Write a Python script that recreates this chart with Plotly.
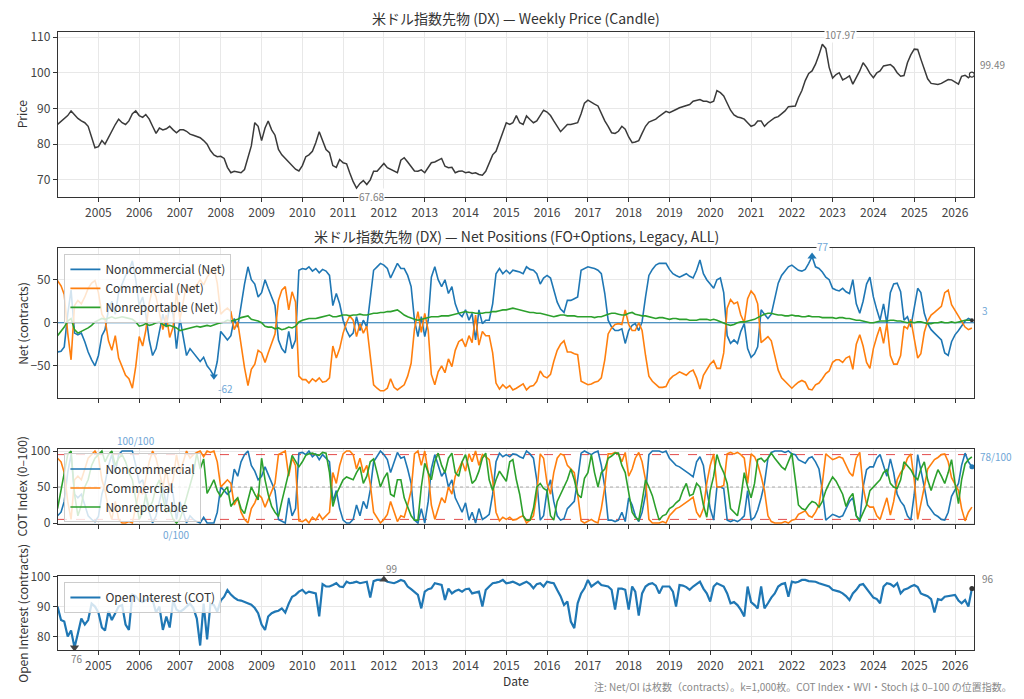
import numpy as np
import pandas as pd
import plotly.graph_objects as go

# ---------------- data (monthly readings, 2004-01 .. 2026-06) ----------------
dates = pd.date_range("2004-01-01", periods=270, freq="MS")

price = [
 85.5, 86.4, 87, 88, 89.3, 88.2, 87.2, 86.5, 86, 85, 82, 79,
 79.3, 81, 80, 82, 83.5, 85.5, 87, 86, 85.5, 86.5, 88.5, 89.3,
 88, 87.5, 88.3, 87, 85, 83, 84.5, 84, 84.3, 85, 84, 83.2,
 84, 84, 83.6, 82.8, 82.5, 82.2, 81.8, 81, 80, 78.2, 77, 76.5,
 76.6, 76, 73.5, 72, 72.4, 72.2, 72, 72.9, 76, 79.5, 86, 85,
 81, 84.5, 86.5, 84, 82.5, 78.5, 77, 76, 75, 74, 73, 72.5,
 74, 76.5, 77, 78, 80.4, 83.5, 81, 78.5, 77.6, 74, 73.5, 75.7,
 74.8, 74.5, 72, 69.5, 67.68, 69, 69.8, 68.7, 70, 72.4, 72.4, 73.5,
 74.6, 73.4, 73, 72.5, 72, 75.5, 76.2, 75, 73.8, 72.5, 72.4, 72.8,
 72, 73.5, 74.8, 75, 75.5, 76, 73.8, 73.4, 73.5, 72, 72.4, 72.5,
 72, 72.2, 71.8, 72, 71.5, 71.3, 72.4, 74.5, 77, 78, 80.5, 83,
 86, 85.5, 86, 88, 86, 85.5, 87.9, 86.9, 86, 86.5, 88, 89.5,
 89, 88, 86.5, 85, 83.5, 84.5, 85.5, 85.5, 85.8, 86, 88.5, 91.5,
 92.3, 91.6, 91.2, 90.7, 88.5, 86.5, 85, 83.2, 83, 83.6, 85, 84.2,
 82, 80.4, 80.6, 81, 83, 85, 86.2, 86.6, 87, 87.8, 88.6, 89.2,
 88.8, 89.2, 89.7, 90.2, 90.5, 90.7, 91.1, 92, 92.3, 92.5, 92, 92,
 91.6, 92, 95, 94.4, 93.5, 91.4, 89.5, 88.2, 87.6, 87.4, 87, 86,
 85, 85.4, 86.5, 86.5, 85, 86, 86.8, 87.4, 87.7, 88.5, 89.3, 90.5,
 90.7, 90.7, 93, 95, 97.8, 99.8, 100.5, 102.4, 105, 107.97, 106.8, 101.5,
 98.5, 99.5, 100, 98, 98.5, 99.1, 96.8, 98.5, 100.5, 102.8, 101.5, 99.8,
 98.6, 100, 100.5, 101.9, 102.2, 102.3, 101.5, 100, 99, 99.2, 102.8, 105,
 106.6, 106.5, 103.8, 101, 98.3, 97, 96.8, 96.7, 97, 97.6, 98.1, 98,
 97.5, 96.8, 99, 99.3, 98.6, 99.49]

net_noncomm = [
 -34, -33, -28, 10, 38, -12, -14, -12, -22, -34, -43, -50,
 -38, -15, -8, 15, 25, 10, 35, 45, 55, 60, 72, 50,
 20, 30, 10, -20, -38, -30, -10, 10, -5, 20, 10, -30,
 5, -20, -38, -30, -35, -40, -45, -40, -50, -55, -62, -45,
 -10, -15, -20, -15, 5, -5, 20, 45, 65, 50, 45, 30,
 35, 50, 40, 30, 20, -20, -30, -35, -10, -30, -20, 61,
 63, 62, 65, 60, 63, 58, 62, 60, 55, 20, 34, 22,
 3, -9, -16, -12, 7, -9, 3, -5, 26, 61, 65, 69,
 67, 63, 52, 61, 69, 63, 63, 55, 42, 3, -16, 7,
 -16, 3, 53, 65, 50, 42, 50, 34, 42, 22, 11, 7,
 15, 3, 11, -20, 15, -1, 3, 3, 22, 57, 63, 57,
 61, 57, 61, 60, 59, 57, 65, 62, 61, 57, 45, 52,
 55, 52, 38, 24, 16, 12, 26, 26, 28, 30, 61, 63,
 65, 64, 63, 61, 57, 34, 3, -5, -9, -9, -7, -24,
 -9, -3, -1, -9, 1, 30, 55, 62, 67, 69, 69, 69,
 62, 57, 55, 53, 55, 57, 54, 52, 61, 73, 57, 50,
 45, 40, 50, 52, 35, -15, -24, -20, -24, -10, -1, -30,
 -40, -36, -28, 15, 10, 5, 10, 30, 46, 55, 60, 65,
 67, 64, 61, 60, 62, 69, 77, 65, 63, 59, 53, 50,
 40, 38, 37, 40, 36, 34, 50, 22, 11, 25, 45, 53,
 30, 15, 3, 22, -1, 35, 45, 46, 36, 3, 7, -5,
 20, 40, 35, 11, -1, -8, -12, -16, -20, -35, -38, -22,
 -14, -9, -3, 2, 5, 3]

net_comm = [
 49, 43, 33, -12, -43, 20, 26, 22, 30, 40, 46, 49,
 35, 10, 4, -21, -32, -15, -41, -52, -61, -65, -76, -51,
 -16, -27, -9, 23, 40, 30, 9, -8, 9, -17, -5, 36,
 4, 28, 45, 36, 40, 44, 50, 44, 53, 59, 64, 46,
 10, 14, 17, 13, -8, 1, -26, -52, -73, -54, -48, -32,
 -35, -46, -35, -25, -13, 26, 38, 42, 15, 36, 24, -62,
 -66, -66, -70, -65, -68, -64, -69, -68, -64, -27, -41, -30,
 -12, 0, 8, 3, -16, -1, -12, -4, -36, -72, -76, -79,
 -79, -76, -65, -75, -78, -75, -72, -62, -47, -7, 13, -11,
 11, -9, -60, -72, -57, -50, -58, -42, -51, -32, -22, -19,
 -28, -15, -23, 9, -26, -10, -15, -15, -35, -70, -77, -72,
 -76, -73, -78, -76, -74, -71, -78, -74, -73, -68, -56, -62,
 -64, -60, -45, -32, -25, -21, -34, -34, -36, -37, -68, -70,
 -72, -71, -69, -68, -64, -43, -13, -6, -2, -1, -2, 15,
 -2, -9, -9, 0, -9, -38, -62, -68, -72, -75, -75, -74,
 -66, -62, -60, -57, -59, -61, -57, -55, -64, -77, -61, -54,
 -48, -44, -53, -53, -35, 17, 27, 22, 24, 9, 0, 28,
 37, 32, 22, -23, -20, -16, -21, -40, -55, -64, -68, -73,
 -76, -72, -69, -67, -69, -77, -78, -72, -70, -65, -59, -56,
 -46, -43, -43, -46, -41, -39, -54, -25, -14, -27, -46, -53,
 -30, -16, -5, -24, -1, -38, -48, -48, -38, -4, -7, 4,
 -20, -41, -36, -11, 2, 9, 12, 16, 19, 35, 38, 21,
 14, 8, 1, -5, -8, -6]

net_nonrep = [
 -15, -10, -5, 2, 5, -8, -12, -10, -8, -6, -3, 1,
 3, 5, 4, 6, 7, 5, 6, 7, 6, 5, 4, 1,
 -4, -3, -1, -3, -2, 0, 1, -2, -4, -3, -5, -6,
 -9, -8, -7, -6, -5, -4, -5, -4, -3, -4, -2, -1,
 0, 1, 3, 2, 3, 4, 6, 7, 8, 4, 3, 2,
 0, -4, -5, -5, -7, -6, -8, -7, -5, -6, -4, 1,
 3, 4, 5, 5, 5, 6, 7, 8, 9, 7, 7, 8,
 9, 9, 8, 9, 9, 10, 9, 9, 10, 11, 11, 12,
 12, 13, 13, 14, 15, 12, 9, 7, 5, 4, 3, 4,
 5, 6, 7, 7, 7, 8, 8, 8, 9, 10, 11, 12,
 13, 12, 12, 11, 11, 11, 12, 12, 13, 13, 14, 15,
 15, 16, 17, 16, 15, 14, 13, 12, 12, 11, 11, 10,
 9, 8, 7, 8, 9, 9, 8, 8, 8, 7, 7, 7,
 7, 7, 6, 7, 7, 9, 10, 11, 11, 10, 9, 9,
 11, 12, 10, 9, 8, 8, 7, 6, 5, 6, 6, 5,
 4, 5, 5, 4, 4, 4, 3, 3, 3, 4, 4, 4,
 3, 4, 3, 1, 0, -2, -3, -2, 0, 1, 1, 2,
 3, 4, 6, 8, 10, 11, 11, 10, 9, 9, 8, 8,
 9, 8, 8, 7, 7, 8, 7, 7, 7, 6, 6, 6,
 6, 5, 6, 6, 5, 5, 4, 3, 3, 2, 1, 0,
 0, 1, 2, 2, 2, 3, 3, 2, 2, 1, 0, 1,
 0, 1, 1, 0, -1, -1, 0, 0, 1, 0, 0, 1,
 0, 1, 2, 3, 3, 3]

idx_noncomm = [
 10, 15, 30, 70, 95, 40, 35, 40, 25, 10, 5, 2,
 9, 40, 55, 80, 95, 70, 95, 100, 100, 100, 100, 80,
 55, 60, 40, 15, 0, 10, 30, 50, 25, 55, 40, 5,
 30, 15, 0, 10, 5, 2, 0, 8, 0, 0, 0, 15,
 50, 45, 40, 45, 75, 65, 85, 95, 100, 80, 72, 60,
 65, 78, 68, 55, 45, 5, 2, 0, 35, 10, 20, 97,
 98, 95, 100, 92, 96, 88, 95, 90, 85, 30, 45, 20,
 4, 0, 0, 5, 25, 10, 30, 20, 46, 85, 92, 100,
 95, 88, 70, 85, 98, 90, 92, 75, 55, 4, 0, 20,
 0, 30, 75, 95, 80, 65, 72, 50, 60, 35, 25, 15,
 28, 4, 15, 0, 20, 5, 8, 12, 40, 85, 97, 92,
 95, 92, 96, 95, 92, 90, 100, 96, 90, 60, 4, 10,
 45, 60, 30, 10, 4, 6, 20, 25, 30, 60, 97, 100,
 97, 95, 98, 100, 80, 50, 4, 4, 2, 4, 15, 2,
 35, 25, 10, 2, 15, 40, 95, 100, 100, 100, 98, 100,
 90, 85, 80, 78, 75, 72, 68, 64, 85, 92, 80, 45,
 20, 4, 50, 50, 48, 4, 2, 4, 2, 5, 10, 45,
 4, 8, 18, 35, 55, 90, 98, 100, 100, 100, 98, 100,
 96, 95, 88, 85, 83, 90, 92, 85, 75, 45, 4, 8,
 12, 10, 8, 10, 20, 30, 35, 10, 2, 50, 74, 78,
 78, 90, 95, 80, 65, 89, 70, 40, 30, 24, 10, 4,
 40, 95, 75, 50, 25, 18, 12, 9, 5, 4, 15, 37,
 45, 55, 80, 97, 85, 78]

idx_comm = [
 90, 85, 70, 30, 5, 60, 65, 60, 75, 90, 95, 100,
 92, 60, 45, 20, 5, 30, 5, 0, 0, 2, 0, 20,
 45, 40, 60, 85, 100, 90, 70, 50, 75, 45, 60, 95,
 70, 85, 100, 90, 95, 98, 100, 92, 100, 98, 100, 85,
 50, 55, 60, 55, 25, 35, 15, 5, 0, 20, 28, 40,
 35, 22, 32, 45, 55, 95, 98, 100, 65, 90, 80, 3,
 2, 5, 0, 8, 4, 12, 5, 10, 15, 70, 55, 80,
 96, 100, 100, 95, 75, 90, 70, 80, 54, 15, 8, 0,
 5, 12, 30, 15, 2, 10, 8, 25, 45, 96, 100, 80,
 100, 70, 25, 5, 20, 35, 28, 50, 40, 65, 75, 85,
 72, 96, 85, 100, 80, 95, 92, 88, 60, 15, 3, 8,
 5, 8, 4, 5, 8, 10, 0, 4, 10, 40, 96, 90,
 55, 40, 70, 90, 96, 94, 80, 75, 70, 40, 3, 0,
 3, 5, 2, 0, 20, 50, 96, 96, 98, 96, 85, 98,
 65, 75, 90, 98, 85, 60, 5, 0, 0, 0, 2, 0,
 10, 15, 20, 22, 25, 28, 32, 36, 15, 8, 20, 55,
 80, 96, 50, 50, 52, 96, 98, 96, 98, 95, 90, 55,
 96, 92, 82, 65, 45, 10, 2, 0, 0, 0, 2, 0,
 4, 5, 12, 15, 17, 10, 8, 15, 25, 55, 96, 92,
 88, 90, 92, 90, 80, 70, 65, 90, 98, 50, 26, 22,
 22, 10, 5, 20, 35, 11, 30, 60, 70, 76, 90, 96,
 60, 5, 25, 50, 75, 82, 88, 91, 95, 96, 85, 63,
 55, 45, 20, 3, 15, 22]

idx_nonrep = [
 20, 45, 70, 95, 100, 40, 10, 25, 50, 60, 80, 90,
 95, 100, 85, 95, 100, 80, 90, 95, 85, 70, 60, 30,
 5, 15, 40, 20, 30, 50, 60, 35, 15, 20, 5, 0,
 5, 20, 35, 50, 69, 97, 75, 89, 41, 50, 60, 45,
 37, 45, 50, 23, 30, 35, 20, 13, 30, 50, 40, 32,
 90, 60, 40, 23, 15, 9, 30, 50, 70, 94, 85, 78,
 85, 94, 96, 97, 95, 94, 98, 97, 70, 23, 40, 50,
 60, 64, 62, 60, 70, 78, 55, 65, 85, 89, 70, 50,
 62, 70, 40, 37, 60, 60, 35, 23, 10, 4, 4, 50,
 83, 70, 60, 85, 97, 80, 70, 90, 97, 70, 65, 85,
 95, 75, 55, 60, 72, 90, 97, 60, 45, 60, 72, 65,
 58, 85, 88, 60, 40, 10, 4, 4, 20, 50, 55, 48,
 45, 10, 4, 30, 40, 50, 60, 75, 60, 40, 35, 62,
 70, 95, 70, 50, 70, 75, 90, 93, 97, 97, 80, 70,
 40, 15, 8, 4, 30, 60, 50, 38, 20, 4, 10, 12,
 20, 23, 28, 32, 45, 55, 38, 40, 55, 50, 25, 8,
 45, 65, 95, 80, 70, 55, 20, 15, 10, 35, 70, 50,
 35, 55, 88, 90, 85, 90, 97, 90, 83, 78, 74, 85,
 97, 60, 25, 20, 18, 25, 30, 28, 22, 30, 45, 55,
 64, 58, 50, 40, 23, 35, 41, 10, 4, 15, 25, 45,
 50, 55, 60, 70, 74, 55, 50, 48, 60, 85, 80, 74,
 65, 60, 75, 85, 60, 45, 60, 74, 65, 55, 70, 88,
 55, 27, 60, 82, 88, 92]

open_interest = [
 90, 85.5, 85, 80, 82, 76.3, 81, 86, 84, 85.5, 91, 90,
 88, 83, 82, 88.5, 85.5, 88, 90, 90.5, 84, 82.2, 94, 93.5,
 92, 91.5, 92.2, 92.8, 92.2, 88, 90, 82.2, 86.7, 83, 92, 89,
 88.3, 89, 90, 91, 89.5, 86, 77, 91, 79, 91, 90.5, 88.3,
 92, 93.3, 95.5, 94, 93, 92.2, 92, 91.5, 91, 90.6, 89.5, 87.8,
 84, 82.2, 86.7, 87.8, 88.3, 88.6, 89.4, 88, 91, 93.3, 93.9, 95,
 95.6, 94.4, 95, 94.8, 94.4, 86.7, 97.5, 96.7, 96.7, 97.2, 97.8, 96.7,
 96.5, 98.3, 97.8, 98, 98.3, 97.8, 98, 98.3, 93, 98.5, 98.9, 98.9,
 99, 98.3, 98, 97.8, 98.3, 98.9, 98.5, 96.7, 95.8, 95, 93.9, 89.4,
 95, 95.8, 96.1, 97.8, 97.5, 97.2, 92.2, 96, 94.4, 95.2, 95.6, 95,
 95.8, 96, 94.4, 94.8, 95, 90, 95.5, 96.7, 97.8, 98, 98.3, 98.9,
 97.8, 98, 98.3, 97.8, 97.2, 97.8, 98.3, 97.5, 96.1, 97.5, 97.8, 96.7,
 98.3, 98, 97.8, 95.5, 93.5, 90.5, 91.7, 85, 82.8, 91.1, 94.4, 96.1,
 98.9, 96.7, 97.5, 98.3, 97.2, 96.9, 96.7, 95.6, 89, 96, 96, 95.6,
 89, 96.7, 95, 87, 94.4, 96.7, 97.5, 97.8, 97, 94.4, 96.7, 96.7,
 96.7, 95, 90, 97.2, 97, 96.5, 95.6, 96.7, 97.5, 98.3, 96, 94.4,
 91.7, 96.7, 97.8, 97.2, 96.7, 94.4, 91.1, 91.5, 90.5, 88.9, 86.7, 96.7,
 91.5, 90.5, 89.4, 96.7, 89.4, 91.1, 93, 94.4, 96.7, 97.5, 97.8, 93.3,
 98.3, 98, 98.3, 98.9, 98.9, 98.5, 98.3, 98.3, 97.8, 97.5, 97, 96.7,
 95.6, 95.3, 95, 94.4, 93.5, 92.2, 94.4, 95.6, 97.2, 97.5, 96.1, 94.4,
 93, 92.5, 91.1, 96.7, 97.8, 97.5, 96.7, 97.8, 94.4, 95.6, 96, 96.7,
 97.2, 96.5, 94.4, 93.9, 93.5, 92.5, 88, 92.5, 92.2, 93.3, 93.5, 93.9,
 93.9, 92, 91.1, 92.2, 90, 96]

# ---------------- styling ----------------
FONT = "Noto Sans CJK JP"
BLUE, ORANGE, GREEN = "#1f77b4", "#ff7f0e", "#2ca02c"
LBLUE = "#6fa6d6"
GREY_TXT = "#808080"
XRANGE = ["2004-01-05", "2026-06-20"]

fig = go.Figure()

# panel 1: price
fig.add_trace(go.Scatter(x=dates, y=price, mode="lines", line=dict(color="#3a3a3a", width=1.5),
                         showlegend=False, xaxis="x", yaxis="y"))
fig.add_trace(go.Scatter(x=[dates[-1]], y=[price[-1]], mode="markers",
                         marker=dict(color="white", size=5, line=dict(color="#3a3a3a", width=1.2)),
                         showlegend=False, xaxis="x", yaxis="y"))

# panel 2: net positions
fig.add_trace(go.Scatter(x=XRANGE, y=[0, 0], mode="lines",
                         line=dict(color=BLUE, width=1), showlegend=False, xaxis="x2", yaxis="y2"))
for name, arr, col in [("Noncommercial (Net)", net_noncomm, BLUE),
                       ("Commercial (Net)", net_comm, ORANGE),
                       ("Nonreportable (Net)", net_nonrep, GREEN)]:
    fig.add_trace(go.Scatter(x=dates, y=arr, mode="lines", name=name, line=dict(color=col, width=1.6),
                             legend="legend", xaxis="x2", yaxis="y2"))
nc = np.array(net_noncomm)
imax, imin = int(nc.argmax()), int(nc.argmin())
fig.add_trace(go.Scatter(x=[dates[imax]], y=[nc[imax]], mode="markers",
                         marker=dict(symbol="triangle-up", color=BLUE, size=8),
                         showlegend=False, xaxis="x2", yaxis="y2"))
fig.add_trace(go.Scatter(x=[dates[imin]], y=[nc[imin]], mode="markers",
                         marker=dict(symbol="triangle-down", color=BLUE, size=7),
                         showlegend=False, xaxis="x2", yaxis="y2"))
fig.add_trace(go.Scatter(x=[dates[-1]], y=[nc[-1]], mode="markers",
                         marker=dict(color="#333", size=4), showlegend=False, xaxis="x2", yaxis="y2"))

# panel 3: COT index
for yv, col, dash in [(95, "rgba(220,30,30,0.8)", "dash"), (5, "rgba(220,30,30,0.8)", "dash"),
                      (50, "#aaaaaa", "dot")]:
    fig.add_trace(go.Scatter(x=XRANGE, y=[yv, yv], mode="lines", line=dict(color=col, width=1, dash=dash),
                             showlegend=False, xaxis="x3", yaxis="y3", hoverinfo="skip"))
for name, arr, col in [("Noncommercial", idx_noncomm, BLUE),
                       ("Commercial", idx_comm, ORANGE),
                       ("Nonreportable", idx_nonrep, GREEN)]:
    fig.add_trace(go.Scatter(x=dates, y=arr, mode="lines", name=name, line=dict(color=col, width=1.6),
                             legend="legend2", xaxis="x3", yaxis="y3"))
ci = np.array(idx_noncomm)
fig.add_trace(go.Scatter(x=[dates[-1]], y=[ci[-1]], mode="markers",
                         marker=dict(color=BLUE, size=5), showlegend=False, xaxis="x3", yaxis="y3"))

# panel 4: open interest
oi = np.array(open_interest)
fig.add_trace(go.Scatter(x=dates, y=oi, mode="lines", name="Open Interest (COT)",
                         line=dict(color=BLUE, width=2.2), legend="legend3", xaxis="x4", yaxis="y4"))
omax, omin = int(oi.argmax()), int(oi.argmin())
fig.add_trace(go.Scatter(x=[dates[omax]], y=[oi[omax]], mode="markers",
                         marker=dict(symbol="triangle-up", color="#444", size=8),
                         showlegend=False, xaxis="x4", yaxis="y4"))
fig.add_trace(go.Scatter(x=[dates[omin]], y=[oi[omin]], mode="markers",
                         marker=dict(symbol="triangle-down", color="#444", size=8),
                         showlegend=False, xaxis="x4", yaxis="y4"))
fig.add_trace(go.Scatter(x=[dates[-1]], y=[oi[-1]], mode="markers",
                         marker=dict(color="#333", size=5), showlegend=False, xaxis="x4", yaxis="y4"))

# ---------------- axes ----------------
def xax(show_labels):
    return dict(type="date", range=XRANGE, showgrid=True, gridcolor="#e8e8e8", gridwidth=1,
                showline=True, linecolor="#333", linewidth=1.3, mirror=True, ticks="outside",
                ticklen=4, tickcolor="#333", tick0="2005-01-01", dtick="M12", tickformat="%Y",
                showticklabels=show_labels, tickfont=dict(size=12, color="#444"), zeroline=False)

def yax(domain, rng, vals, anchor):
    return dict(domain=domain, range=rng, tickvals=vals, showgrid=True, gridcolor="#e8e8e8",
                showline=True, linecolor="#333", linewidth=1.3, mirror=True, ticks="outside",
                ticklen=4, tickcolor="#333", tickfont=dict(size=12, color="#444"),
                zeroline=False, anchor=anchor)

legend_common = dict(xanchor="left", yanchor="top", bgcolor="rgba(255,255,255,0.8)",
                     bordercolor="#cccccc", borderwidth=1, font=dict(size=12, color="#333", family=FONT),
                     tracegroupgap=0, itemwidth=30)

fig.update_layout(
    width=1024, height=699,
    margin=dict(l=58, r=50, t=32, b=49),
    paper_bgcolor="white", plot_bgcolor="white",
    font=dict(family=FONT, color="#333"),
    xaxis=dict(xax(True), anchor="y"),
    xaxis2=dict(xax(False), anchor="y2", matches="x"),
    xaxis3=dict(xax(False), anchor="y3", matches="x"),
    xaxis4=dict(xax(True), anchor="y4", matches="x"),
    yaxis=yax([0.733, 1.0], [65.2, 111.4], [70, 80, 90, 100, 110], "x"),
    yaxis2=yax([0.408, 0.650], [-87.2, 86.5], [-50, 0, 50], "x2"),
    yaxis3=yax([0.2034, 0.3248], [-1.8, 102.4], [0, 50, 100], "x3"),
    yaxis4=yax([0.0, 0.1197], [75.5, 100.2], [80, 90, 100], "x4"),
    legend=dict(legend_common, x=0.007, y=0.641),
    legend2=dict(legend_common, x=0.007, y=0.318),
    legend3=dict(legend_common, x=0.007, y=0.110),
    showlegend=True,
)

ann = []
def title(text, y):
    ann.append(dict(text=text, xref="paper", yref="paper", x=0.5, y=y, xanchor="center",
                    yanchor="middle", showarrow=False, font=dict(size=14, color="#333")))
title("米ドル指数先物 (DX) — Weekly Price (Candle)", 1.0227)
title("米ドル指数先物 (DX) — Net Positions (FO+Options, Legacy, ALL)", 0.6699)

for text, yref in [("Price", "y domain"), ("Net (contracts)", "y2 domain"),
                   ("COT Index (0–100)", "y3 domain"), ("Open Interest (contracts)", "y4 domain")]:
    ann.append(dict(text=text, xref="paper", yref=yref, x=-0.0396, y=0.5, xanchor="center",
                    yanchor="middle", textangle=-90, showarrow=False, font=dict(size=12, color="#333")))

ann.append(dict(text="Date", xref="paper", yref="paper", x=0.5, y=-0.050, xanchor="center",
                yanchor="middle", showarrow=False, font=dict(size=12, color="#333")))
ann.append(dict(text="注: Net/OI は枚数（contracts）。k=1,000枚。COT Index・WVI・Stoch は 0–100 の位置指数。",
                xref="paper", yref="paper", x=1.0437, y=-0.0594, xanchor="right", yanchor="middle",
                showarrow=False, font=dict(size=10, color="#888")))

def lab(text, x, y, xr, yr, color, dx, dy, bg=None, anchor="center", size=10):
    d = dict(text=text, x=x, y=y, xref=xr, yref=yr, xshift=dx, yshift=dy, showarrow=False,
             xanchor=anchor, yanchor="middle", font=dict(size=size, color=color), borderpad=0)
    if bg:
        d["bgcolor"] = bg
    ann.append(d)

p = np.array(price)
pmax, pmin = int(p.argmax()), int(p.argmin())
lab(f"{p[pmax]:.2f}", dates[pmax], p[pmax], "x", "y", GREY_TXT, 18, 10, bg="white")
lab(f"{p[pmin]:.2f}", dates[pmin], p[pmin], "x", "y", GREY_TXT, 15, -8, bg="white")
lab(f"{p[-1]:.2f}", dates[-1], p[-1], "x", "y", GREY_TXT, 7, 10, anchor="left")

lab(f"{nc[imax]:.0f}", dates[imax], nc[imax], "x2", "y2", LBLUE, 11, 10, bg="white")
lab(f"{nc[imin]:.0f}", dates[imin], nc[imin], "x2", "y2", LBLUE, 12, -12)
lab(f"{nc[-1]:.0f}", dates[-1], nc[-1], "x2", "y2", LBLUE, 9, 10, anchor="left")

cmax, cmin = int(ci.argmax()), int(ci.argmin())
lab(f"{ci[cmax]:.0f}/100", dates[cmax], ci[cmax], "x3", "y3", LBLUE, 14, 11)
lab(f"{ci[cmin]:.0f}/100", dates[cmin], ci[cmin], "x3", "y3", LBLUE, 24, -11)
lab(f"{ci[-1]:.0f}/100", dates[-1], ci[-1], "x3", "y3", LBLUE, 7, 10, anchor="left")

lab(f"{oi[omax]:.0f}", dates[omax], oi[omax], "x4", "y4", GREY_TXT, 8, 11)
lab(f"{oi[omin]:.0f}", dates[omin], oi[omin], "x4", "y4", GREY_TXT, 2, -11)
lab(f"{oi[-1]:.0f}", dates[-1], oi[-1], "x4", "y4", GREY_TXT, 9, 10, anchor="left")

fig.update_layout(annotations=ann)
fig.write_html("out.html")
